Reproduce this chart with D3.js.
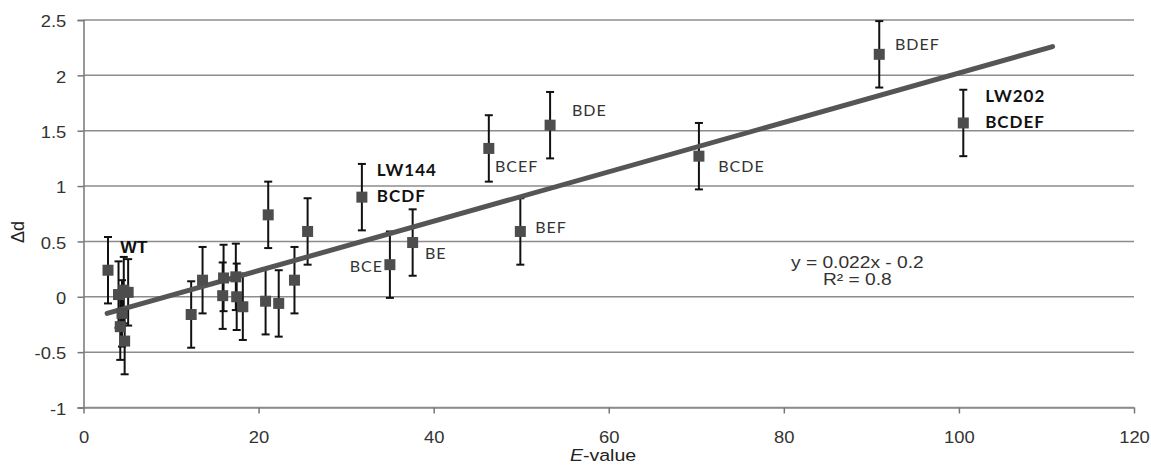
<!DOCTYPE html>
<html>
<head>
<meta charset="utf-8">
<script src="https://cdn.jsdelivr.net/npm/d3@7"></script>
<style>
  body { margin: 0; background: #fff; }
  svg { display: block; }
</style>
</head>
<body>
<div id="plotarea"></div>
<script>
// mutants: E-value vs delta d, error bars are +/- err
var eValues = [2.8, 4.0, 4.6, 5.1, 4.4, 4.2, 4.7,
               12.3, 13.6, 15.9, 16.0, 17.4, 17.5, 18.2, 20.8, 21.1, 22.3, 24.1, 25.6,
               31.8, 35.0, 37.6, 46.3, 49.9, 53.3, 70.3, 90.9, 100.5];
var deltaD = [0.24, 0.02, 0.06, 0.04, -0.15, -0.27, -0.40,
              -0.16, 0.15, 0.01, 0.17, 0.18, 0.0, -0.09, -0.04, 0.74, -0.06, 0.15, 0.59,
              0.90, 0.29, 0.49, 1.34, 0.59, 1.55, 1.27, 2.19, 1.57];
var errs = [0.3, 0.3, 0.3, 0.3, 0.3, 0.3, 0.3,
            0.3, 0.3, 0.3, 0.3, 0.3, 0.3, 0.3, 0.3, 0.3, 0.3, 0.3, 0.3,
            0.3, 0.3, 0.3, 0.3, 0.3, 0.3, 0.3, 0.3, 0.3];

// linear trend line end points
var trendX = [2.7, 110.7];
var trendY = [-0.15, 2.26];

var xTicks = [0, 20, 40, 60, 80, 100, 120];
var yTicks = [-1, -0.5, 0, 0.5, 1, 1.5, 2, 2.5];

// annotation texts, anchored in data coordinates
var labelText = ["WT", "LW144", "BCDF", "BCE", "BE", "BCEF", "BDE", "BEF", "BCDE", "BDEF", "LW202", "BCDEF"];
var labelX    = [4.2, 33.5, 33.5, 30.4, 39.0, 47.0, 55.8, 51.6, 72.5, 92.7, 103.0, 103.0];
var labelY    = [0.40, 1.09, 0.855, 0.223, 0.34, 1.125, 1.63, 0.575, 1.125, 2.227, 1.757, 1.523];
var labelBold = [true, true, true, false, false, false, false, false, false, false, true, true];

var equation = ["y = 0.022x - 0.2", "R\u00b2 = 0.8"];

var W = 1151, H = 466;
var stretch = 1.15; // the Arial texts look a bit wide in the original
var arial = "Liberation Sans, Arial, sans-serif";

var svg = d3.select("#plotarea")
  .append("svg")
    .attr("width", W)
    .attr("height", H);

var x = d3.scaleLinear().domain([0, 120]).range([83.5, 1134]);
var y = d3.scaleLinear().domain([-1, 2.5]).range([407.5, 20]);

// horizontal grid
svg.append("g")
  .selectAll("line")
  .data(yTicks)
  .enter()
  .append("line")
    .attr("x1", x(0)).attr("x2", x(120))
    .attr("y1", function(d) { return y(d); })
    .attr("y2", function(d) { return y(d); })
    .style("stroke", "#8c8c8c")
    .style("stroke-width", 1.5);

// Y axis (plain hyphen for negatives, like the original)
var yAxis = svg.append("g")
  .attr("transform", "translate(" + x(0) + ",0)")
  .call(d3.axisLeft(y).tickValues(yTicks).tickSize(6).tickPadding(9).tickFormat(function(d) { return String(d); }));
yAxis.select(".domain").style("stroke", "#777").style("stroke-width", 1.5);
yAxis.selectAll(".tick line").style("stroke", "#777").style("stroke-width", 1.5);
yAxis.selectAll("text")
  .attr("transform", "scale(" + stretch + ",1)")
  .attr("dy", "0.42em")
  .style("font-family", arial)
  .style("font-size", "16px")
  .style("fill", "#333");

// X axis
var xAxis = svg.append("g")
  .attr("transform", "translate(0," + y(-1) + ")")
  .call(d3.axisBottom(x).tickValues(xTicks).tickSize(6).tickPadding(18).tickSizeOuter(0));
xAxis.select(".domain").style("stroke", "#8c8c8c").style("stroke-width", 1.5);
xAxis.selectAll(".tick line").style("stroke", "#777").style("stroke-width", 1.5);
xAxis.selectAll("text")
  .attr("transform", "scale(" + stretch + ",1)")
  .style("font-family", arial)
  .style("font-size", "16px")
  .style("fill", "#333");

// axis titles
var xt = svg.append("text")
  .attr("text-anchor", "middle")
  .attr("transform", "translate(603,461) scale(" + stretch + ",1)")
  .style("font-family", arial)
  .style("font-size", "17px")
  .style("fill", "#222");
xt.append("tspan").style("font-style", "italic").text("E");
xt.append("tspan").text("-value");

svg.append("text")
  .attr("text-anchor", "middle")
  .attr("transform", "translate(24,232) rotate(-90)")
  .style("font-family", arial)
  .style("font-size", "18px")
  .style("fill", "#222")
  .text("\u0394d");

var data = eValues.map(function(v, i) { return {x: v, y: deltaD[i], e: errs[i]}; });

// error bars
var eb = svg.append("g").selectAll("g").data(data).enter().append("g");
eb.append("line")
  .attr("x1", function(d) { return x(d.x); })
  .attr("x2", function(d) { return x(d.x); })
  .attr("y1", function(d) { return y(d.y + d.e); })
  .attr("y2", function(d) { return y(d.y - d.e); })
  .style("stroke", "#111").style("stroke-width", 2);
eb.append("line")
  .attr("x1", function(d) { return x(d.x) - 4; })
  .attr("x2", function(d) { return x(d.x) + 4; })
  .attr("y1", function(d) { return y(d.y + d.e); })
  .attr("y2", function(d) { return y(d.y + d.e); })
  .style("stroke", "#111").style("stroke-width", 2);
eb.append("line")
  .attr("x1", function(d) { return x(d.x) - 4; })
  .attr("x2", function(d) { return x(d.x) + 4; })
  .attr("y1", function(d) { return y(d.y - d.e); })
  .attr("y2", function(d) { return y(d.y - d.e); })
  .style("stroke", "#111").style("stroke-width", 2);

// trend line
svg.append("line")
  .attr("x1", x(trendX[0])).attr("y1", y(trendY[0]))
  .attr("x2", x(trendX[1])).attr("y2", y(trendY[1]))
  .style("stroke", "#555")
  .style("stroke-width", 5)
  .style("stroke-linecap", "round");

// square markers
svg.append("g")
  .selectAll("rect")
  .data(data)
  .enter()
  .append("rect")
    .attr("x", function(d) { return x(d.x) - 5.5; })
    .attr("y", function(d) { return y(d.y) - 5.5; })
    .attr("width", 11)
    .attr("height", 11)
    .style("fill", "#4d4d4d");

// point labels
svg.append("g")
  .selectAll("text")
  .data(labelText)
  .enter()
  .append("text")
    .attr("transform", function(d, i) {
      var s = i == 0 ? 1.1 : 1;
      return "translate(" + x(labelX[i]) + "," + y(labelY[i]) + ") scale(" + s + ",1)";
    })
    .style("font-family", function(d, i) { return i == 0 ? arial : "Lato, sans-serif"; })
    .style("font-size", function(d, i) { return i == 0 ? "16px" : (labelBold[i] ? "17px" : "16px"); })
    .style("font-weight", function(d, i) { return labelBold[i] ? "bold" : "normal"; })
    .style("letter-spacing", function(d, i) { return i == 0 ? "0px" : "1px"; })
    .style("fill", function(d, i) { return labelBold[i] ? "#111" : "#333"; })
    .text(function(d) { return d; });

// regression equation
svg.append("g")
  .selectAll("text")
  .data(equation)
  .enter()
  .append("text")
    .attr("text-anchor", "middle")
    .attr("transform", function(d, i) {
      return "translate(" + x(88.4) + "," + (y(0.26) + i * 16.5) + ") scale(1.2,1)";
    })
    .style("font-family", arial)
    .style("font-size", "16px")
    .style("fill", "#333")
    .text(function(d) { return d; });
</script>
</body>
</html>
